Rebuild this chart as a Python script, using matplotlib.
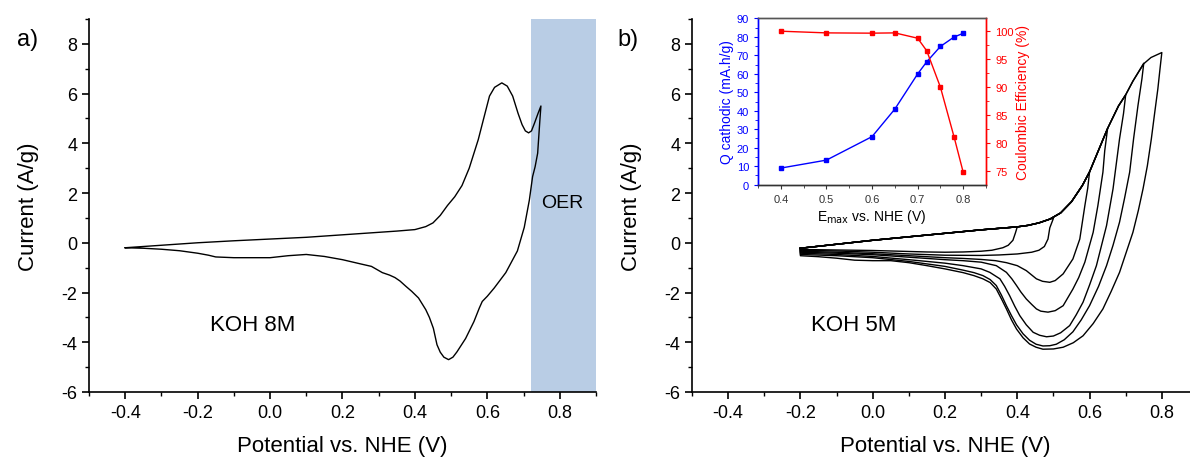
import matplotlib
matplotlib.use("Agg")
import matplotlib.pyplot as plt
from matplotlib.ticker import MultipleLocator, FormatStrFormatter

plt.rcParams['font.family'] = ['Liberation Sans', 'DejaVu Sans']
plt.rcParams['axes.unicode_minus'] = False

# ---------------- Panel a: KOH 8M ----------------
a_anodic_x = [-0.4, -0.3, -0.2, -0.1, 0.0, 0.1, 0.2, 0.3, 0.35, 0.4, 0.43, 0.45, 0.47,
              0.49, 0.51, 0.53, 0.55, 0.575, 0.59, 0.606, 0.62, 0.64, 0.655, 0.67, 0.685,
              0.696, 0.705, 0.714, 0.722, 0.73, 0.74, 0.748]
a_anodic_y = [-0.2, -0.1, 0.0, 0.08, 0.15, 0.22, 0.32, 0.42, 0.47, 0.53, 0.65, 0.8, 1.1,
              1.5, 1.85, 2.3, 3.0, 4.15, 5.0, 5.9, 6.25, 6.43, 6.3, 5.9, 5.2,
              4.75, 4.5, 4.42, 4.5, 4.8, 5.2, 5.5]
a_cathodic_x = [0.748, 0.745, 0.739, 0.732, 0.725, 0.716, 0.702, 0.683, 0.651, 0.619, 0.6,
                0.586, 0.578, 0.563, 0.54, 0.516, 0.505, 0.493, 0.48, 0.47, 0.461, 0.451,
                0.44, 0.43, 0.41, 0.391, 0.375, 0.359, 0.345, 0.33, 0.31, 0.28, 0.25, 0.2,
                0.15, 0.1, 0.05, 0.0, -0.05, -0.1, -0.15, -0.17, -0.2, -0.25, -0.3, -0.35, -0.4]
a_cathodic_y = [5.5, 4.9, 3.6, 3.06, 2.66, 1.71, 0.62, -0.33, -1.2, -1.82, -2.15,
                -2.36, -2.62, -3.17, -3.85, -4.39, -4.6, -4.7, -4.6, -4.4, -4.1, -3.44,
                -3.0, -2.69, -2.22, -1.95, -1.75, -1.54, -1.4, -1.3, -1.2, -0.95, -0.85, -0.68,
                -0.55, -0.47, -0.52, -0.6, -0.6, -0.6, -0.57, -0.5, -0.42, -0.32, -0.26, -0.22, -0.2]
oer_start, oer_end = 0.72, 0.9

# ---------------- Panel b: KOH 5M ----------------
b_anodic_x = [-0.2, -0.15, -0.1, -0.05, 0.0, 0.05, 0.1, 0.15, 0.2, 0.25, 0.3, 0.35, 0.4,
              0.43, 0.46, 0.49, 0.52, 0.55, 0.58, 0.6, 0.62, 0.65, 0.68, 0.7, 0.72, 0.75,
              0.77, 0.8]
b_anodic_y = [-0.22, -0.14, -0.06, 0.02, 0.1, 0.17, 0.24, 0.31, 0.38, 0.45, 0.52, 0.58, 0.64,
              0.7, 0.8, 0.95, 1.2, 1.65, 2.3, 2.85, 3.55, 4.6, 5.5, 5.95, 6.5, 7.2,
              7.45, 7.65]

vertex_04 = 0.4
cath_04_x = [0.4, 0.395, 0.388, 0.375, 0.36, 0.33, 0.3, 0.25, 0.2, 0.15, 0.1, 0.05, 0.0,
             -0.05, -0.1, -0.15, -0.2, -0.2]
cath_04_y = [0.64, 0.4, 0.1, -0.1, -0.2, -0.3, -0.34, -0.37, -0.38, -0.37, -0.35, -0.33, -0.31,
             -0.3, -0.29, -0.28, -0.27, -0.22]

vertex_05 = 0.5
cath_05_x = [0.5, 0.49, 0.485, 0.475, 0.46, 0.44, 0.4, 0.35, 0.3, 0.2, 0.1, 0.0, -0.1, -0.2, -0.2]
cath_05_y = [0.98, 0.6, 0.15, -0.15, -0.3, -0.38, -0.45, -0.49, -0.51, -0.5, -0.45, -0.38,
             -0.33, -0.3, -0.22]

vertex_06 = 0.6
cath_06_x = [0.6, 0.595, 0.587, 0.573, 0.554, 0.527, 0.505, 0.49, 0.47, 0.453, 0.425, 0.4,
             0.37, 0.34, 0.3, 0.25, 0.2, 0.1, 0.0, -0.1, -0.2, -0.2]
cath_06_y = [2.85, 2.2, 1.49, 0.15, -0.65, -1.25, -1.52, -1.59, -1.55, -1.45, -1.12, -0.92,
             -0.8, -0.72, -0.67, -0.63, -0.6, -0.52, -0.44, -0.38, -0.34, -0.22]

vertex_065 = 0.65
cath_065_x = [0.65, 0.642, 0.637, 0.623, 0.61, 0.587, 0.57, 0.554, 0.527, 0.505, 0.485,
              0.465, 0.453, 0.44, 0.425, 0.41, 0.398, 0.385, 0.37, 0.342, 0.3, 0.25, 0.2,
              0.1, 0.0, -0.1, -0.2, -0.2]
cath_065_y = [4.6, 3.7, 2.84, 1.49, 0.42, -0.78, -1.4, -1.86, -2.53, -2.73, -2.79,
              -2.75, -2.66, -2.48, -2.26, -1.98, -1.72, -1.45, -1.19, -0.92, -0.78, -0.72, -0.68,
              -0.58, -0.48, -0.42, -0.38, -0.22]

vertex_07 = 0.7
cath_07_x = [0.7, 0.694, 0.683, 0.665, 0.647, 0.619, 0.6, 0.582, 0.563, 0.545, 0.52, 0.5,
             0.481, 0.462, 0.444, 0.425, 0.407, 0.393, 0.379, 0.365, 0.352, 0.324, 0.3, 0.25,
             0.2, 0.1, 0.0, -0.1, -0.2, -0.2]
cath_07_y = [5.95, 5.2, 4.18, 2.17, 0.69, -0.92, -1.7, -2.39, -2.9, -3.33, -3.62, -3.75,
             -3.78, -3.72, -3.6, -3.3, -2.93, -2.55, -2.13, -1.75, -1.45, -1.19, -1.05, -0.92,
             -0.82, -0.68, -0.55, -0.47, -0.42, -0.22]

vertex_075 = 0.75
cath_075_x = [0.75, 0.745, 0.734, 0.722, 0.711, 0.697, 0.683, 0.665, 0.647, 0.625, 0.6, 0.577,
              0.554, 0.53, 0.508, 0.49, 0.471, 0.452, 0.434, 0.416, 0.398, 0.384, 0.37, 0.356,
              0.342, 0.325, 0.305, 0.28, 0.25, 0.2, 0.1, 0.0, -0.1, -0.2, -0.2]
cath_075_y = [7.22, 6.6, 5.52, 4.2, 2.84, 1.8, 0.83, -0.1, -0.92, -1.75, -2.53, -3.1,
              -3.58, -3.9, -4.08, -4.14, -4.15, -4.08, -3.92, -3.66, -3.3, -2.93, -2.53, -2.1,
              -1.72, -1.48, -1.32, -1.2, -1.1, -0.95, -0.75, -0.6, -0.52, -0.47, -0.22]

vertex_08 = 0.8
cath_08_x = [0.8, 0.795, 0.789, 0.78, 0.771, 0.76, 0.748, 0.735, 0.72, 0.7, 0.683, 0.66,
             0.637, 0.61, 0.582, 0.555, 0.527, 0.5, 0.471, 0.452, 0.434, 0.416, 0.398, 0.384,
             0.37, 0.356, 0.342, 0.325, 0.305, 0.28, 0.25, 0.2, 0.15, 0.1, 0.05, 0.0, -0.05,
             -0.1, -0.15, -0.2, -0.2]
cath_08_y = [7.65, 7.0, 6.19, 5.2, 4.18, 3.1, 2.17, 1.3, 0.42, -0.45, -1.19, -1.95,
             -2.66, -3.25, -3.74, -4.02, -4.2, -4.27, -4.28, -4.2, -4.07, -3.82, -3.47, -3.1,
             -2.66, -2.25, -1.86, -1.6, -1.45, -1.32, -1.2, -1.05, -0.92, -0.8, -0.72, -0.72, -0.7,
             -0.62, -0.56, -0.52, -0.22]

b_cycles = [
    (vertex_04, cath_04_x, cath_04_y),
    (vertex_05, cath_05_x, cath_05_y),
    (vertex_06, cath_06_x, cath_06_y),
    (vertex_065, cath_065_x, cath_065_y),
    (vertex_07, cath_07_x, cath_07_y),
    (vertex_075, cath_075_x, cath_075_y),
    (vertex_08, cath_08_x, cath_08_y),
]

# ---------------- Inset ----------------
emax = [0.4, 0.5, 0.6, 0.65, 0.7, 0.72, 0.75, 0.78, 0.8]
q_cathodic = [9.0, 13.3, 26.0, 40.9, 59.9, 66.5, 74.8, 79.9, 81.9]
coulombic_eff = [100.0, 99.7, 99.65, 99.7, 98.75, 96.5, 90.0, 81.1, 74.8]

x_ticks = [-0.4, -0.2, 0.0, 0.2, 0.4, 0.6, 0.8]
y_ticks = [-6, -4, -2, 0, 2, 4, 6, 8]

TICK_FS = 13
LABEL_FS = 16

fig = plt.figure(figsize=(11.9, 4.6), dpi=100)


def style_main(ax):
    ax.set_xlim(-0.5, 0.9)
    ax.set_ylim(-6, 9)
    ax.spines['top'].set_visible(False)
    ax.spines['right'].set_visible(False)
    for s in ('left', 'bottom'):
        ax.spines[s].set_linewidth(1.2)
    ax.set_xticks(x_ticks)
    ax.set_yticks(y_ticks)
    ax.xaxis.set_major_formatter(FormatStrFormatter('%.1f'))
    ax.yaxis.set_major_formatter(FormatStrFormatter('%d'))
    ax.xaxis.set_minor_locator(MultipleLocator(0.1))
    ax.yaxis.set_minor_locator(MultipleLocator(1))
    ax.tick_params(which='major', direction='out', length=5, width=1.2, labelsize=TICK_FS)
    ax.tick_params(which='minor', direction='out', length=3, width=1.0)
    ax.set_xlabel('Potential vs. NHE (V)', fontsize=LABEL_FS, labelpad=10)
    ax.set_ylabel('Current (A/g)', fontsize=LABEL_FS, labelpad=16)


# Panel a
ax_a = fig.add_axes([0.0748, 0.1457, 0.426, 0.8109])
style_main(ax_a)
ax_a.axvspan(oer_start, oer_end, color='#b9cde5', lw=0, zorder=0)
ax_a.plot(a_anodic_x + a_cathodic_x, a_anodic_y + a_cathodic_y, color='black', lw=1.0)
ax_a.text(0.807, 1.6, 'OER', fontsize=14, ha='center', va='center')
ax_a.text(-0.165, -3.3, 'KOH 8M', fontsize=16, ha='left', va='center')
fig.text(0.023, 0.912, 'a)', fontsize=17, ha='center', va='center')

# Panel b
ax_b = fig.add_axes([0.5815, 0.1457, 0.4252, 0.8109])
style_main(ax_b)
for vertex, cx, cy in b_cycles:
    xs = [x for x in b_anodic_x if x < vertex]
    ys = [y for x, y in zip(b_anodic_x, b_anodic_y) if x < vertex]
    ax_b.plot(xs + cx, ys + cy, color='black', lw=1.0)
ax_b.text(-0.17, -3.3, 'KOH 5M', fontsize=16, ha='left', va='center')
fig.text(0.528, 0.912, 'b)', fontsize=17, ha='center', va='center')

# Inset
ax_in = fig.add_axes([0.637, 0.5963, 0.1916, 0.3617])
ax_in2 = ax_in.twinx()
ax_in.plot(emax, q_cathodic, color='#0000ff', lw=1.0, marker='s', ms=3.2)
ax_in2.plot(emax, coulombic_eff, color='#ff0000', lw=1.0, marker='s', ms=3.2)
ax_in.set_xlim(0.35, 0.85)
ax_in.set_ylim(0, 90)
ax_in2.set_ylim(72.6, 102.3)
ax_in.set_xticks([0.4, 0.5, 0.6, 0.7, 0.8])
ax_in.xaxis.set_minor_locator(MultipleLocator(0.05))
ax_in.set_yticks(range(0, 91, 10))
ax_in.yaxis.set_minor_locator(MultipleLocator(5))
ax_in2.set_yticks([75, 80, 85, 90, 95, 100])
ax_in2.yaxis.set_minor_locator(MultipleLocator(2.5))
ax_in.tick_params(axis='x', which='major', labelsize=8, length=3, colors='#333333')
ax_in.tick_params(axis='x', which='minor', length=2, colors='#333333')
ax_in.tick_params(axis='y', which='major', labelsize=8, length=3, colors='#0000ff')
ax_in.tick_params(axis='y', which='minor', length=2, colors='#0000ff')
ax_in2.tick_params(axis='y', which='major', labelsize=8, length=3, colors='#ff0000')
ax_in2.tick_params(axis='y', which='minor', length=2, colors='#ff0000')
for a in (ax_in, ax_in2):
    a.spines['left'].set_color('#0000ff')
    a.spines['right'].set_color('#ff0000')
    a.spines['top'].set_color('#555555')
    a.spines['bottom'].set_color('#333333')
    for s in a.spines.values():
        s.set_linewidth(1.0)
ax_in.set_ylabel('Q cathodic (mA.h/g)', color='#0000ff', fontsize=10, labelpad=2)
ax_in2.set_ylabel('Coulombic Efficiency (%)', color='#ff0000', fontsize=10, labelpad=2)
ax_in.set_xlabel(r'E$_{\mathrm{max}}$ vs. NHE (V)', fontsize=10, labelpad=2)

fig.savefig('out.png', dpi=100)
